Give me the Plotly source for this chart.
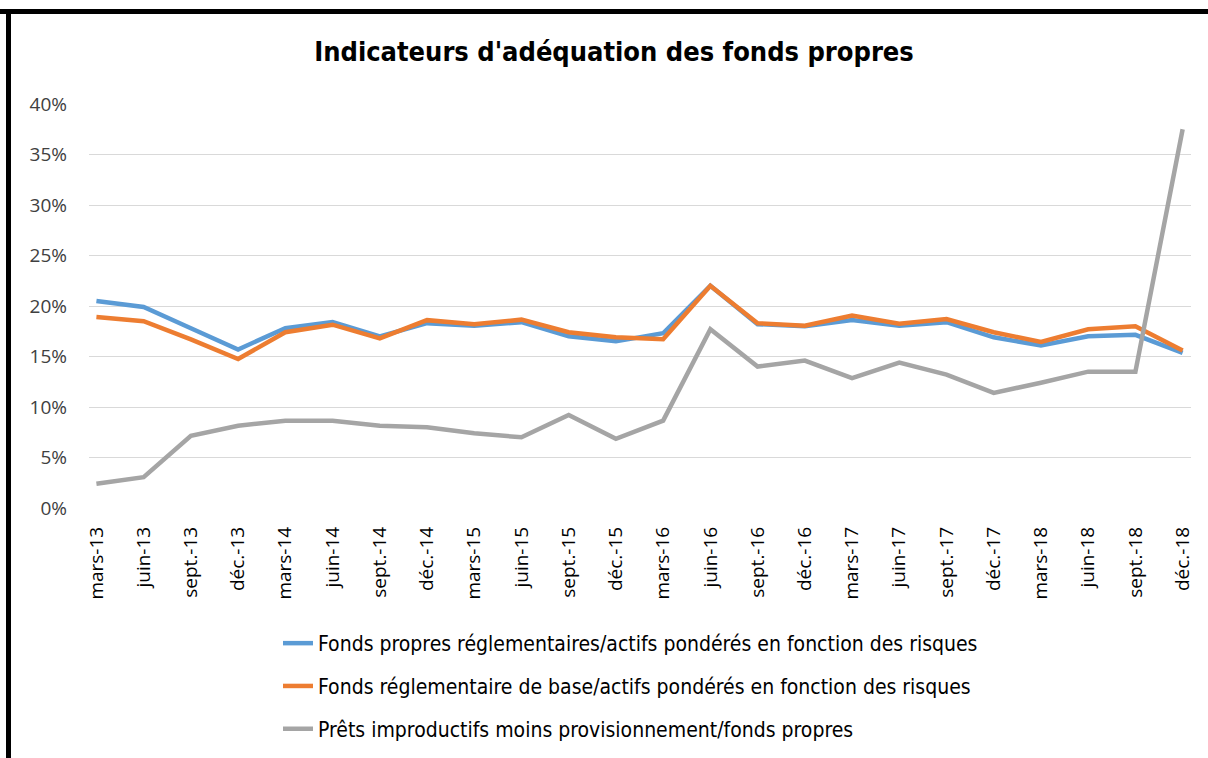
import plotly.graph_objects as go

# ---- data ----
categories = ["mars-13", "juin-13", "sept.-13", "déc.-13",
              "mars-14", "juin-14", "sept.-14", "déc.-14",
              "mars-15", "juin-15", "sept.-15", "déc.-15",
              "mars-16", "juin-16", "sept.-16", "déc.-16",
              "mars-17", "juin-17", "sept.-17", "déc.-17",
              "mars-18", "juin-18", "sept.-18", "déc.-18"]

fonds_propres = [20.5, 19.9, 17.8, 15.7, 17.8, 18.4, 17.0, 18.3,
                 18.05, 18.4, 17.0, 16.5, 17.3, 22.0, 18.2, 18.0,
                 18.6, 18.05, 18.4, 16.9, 16.1, 17.0, 17.15, 15.35]
fonds_base = [18.9, 18.5, 16.7, 14.75, 17.4, 18.15, 16.8, 18.6,
              18.2, 18.65, 17.4, 16.9, 16.7, 22.0, 18.3, 18.05,
              19.05, 18.25, 18.7, 17.4, 16.45, 17.7, 18.0, 15.6]
prets_improductifs = [2.4, 3.05, 7.15, 8.15, 8.65, 8.65, 8.15, 8.0,
                      7.4, 7.0, 9.2, 6.85, 8.65, 17.7, 14.0, 14.6,
                      12.85, 14.4, 13.2, 11.4, 12.4, 13.5, 13.5, 37.5]

series_names = ["Fonds propres réglementaires/actifs pondérés en fonction des risques",
                "Fonds réglementaire de base/actifs pondérés en fonction des risques",
                "Prêts improductifs moins provisionnement/fonds propres"]
series_colors = ["#5B9BD5", "#ED7D31", "#A5A5A5"]
y_ticks = [0, 5, 10, 15, 20, 25, 30, 35, 40]
y_tick_labels = [f"{t}%" for t in y_ticks]
title_text = "Indicateurs d'adéquation des fonds propres"

# ---- figure ----
W, H = 1208, 758
L, R, T, B = 89, 1191, 104, 508  # plot area in pixels
pw, ph = R - L, B - T

def px_x(px):
    return (px - L) / pw

def px_y(py):
    return (B - py) / ph

fig = go.Figure()
for i, (vals, name, col) in enumerate(zip([fonds_propres, fonds_base, prets_improductifs],
                                          series_names, series_colors)):
    fig.add_trace(go.Scatter(x=list(range(len(categories))), y=vals, mode="lines",
                             name=name, legendgroup=f"g{i}",
                             line=dict(color=col, width=4.5)))

narrow = "Liberation Sans Narrow, Arial Narrow, DejaVu Sans Condensed, sans-serif"
tickfont = "Open Sans, Calibri, sans-serif"

fig.update_layout(
    width=W, height=H,
    margin=dict(l=L, r=W - R, t=T, b=H - B, pad=0),
    paper_bgcolor="white", plot_bgcolor="white",
    showlegend=True,
    legend=dict(x=px_x(278), y=1 - 623 / H, xref="paper", yref="container",
                xanchor="left", yanchor="top", orientation="v",
                font=dict(family=narrow, size=21, color="#000000"),
                tracegroupgap=12.5, itemwidth=30, bgcolor="rgba(0,0,0,0)"),
    title=dict(text=f"<b>{title_text}</b>", x=px_x(614), xref="paper",
               y=1 - 52 / H, yref="container", xanchor="center", yanchor="middle",
               font=dict(family=narrow, size=27, color="#000000")),
    xaxis=dict(tickmode="array", tickvals=list(range(len(categories))), ticktext=categories,
               range=[-0.157, len(categories) - 1 + 0.177], tickangle=-90,
               showgrid=False, zeroline=False, showline=False,
               ticks="", tickfont=dict(family=tickfont, size=19, color="#000000"),
               ticklabelstandoff=14),
    yaxis=dict(tickmode="array", tickvals=y_ticks, ticktext=y_tick_labels,
               range=[0, 40], showgrid=True, gridcolor="#D9D9D9", gridwidth=1.3,
               zeroline=False, showline=False, ticks="",
               tickfont=dict(family=tickfont, size=19, color="#404040"),
               ticklabelstandoff=21),
    shapes=[
        dict(type="rect", xref="paper", yref="paper",
             x0=px_x(0), x1=px_x(W + 5), y0=px_y(14), y1=px_y(9),
             fillcolor="#000000", line=dict(width=0), layer="above"),
        dict(type="rect", xref="paper", yref="paper",
             x0=px_x(6), x1=px_x(11), y0=px_y(H + 5), y1=px_y(9),
             fillcolor="#000000", line=dict(width=0), layer="above"),
    ],
)

fig.write_html("out.html", config={"displayModeBar": False},
               post_script="document.body.style.margin='0';document.body.style.overflow='hidden';")
